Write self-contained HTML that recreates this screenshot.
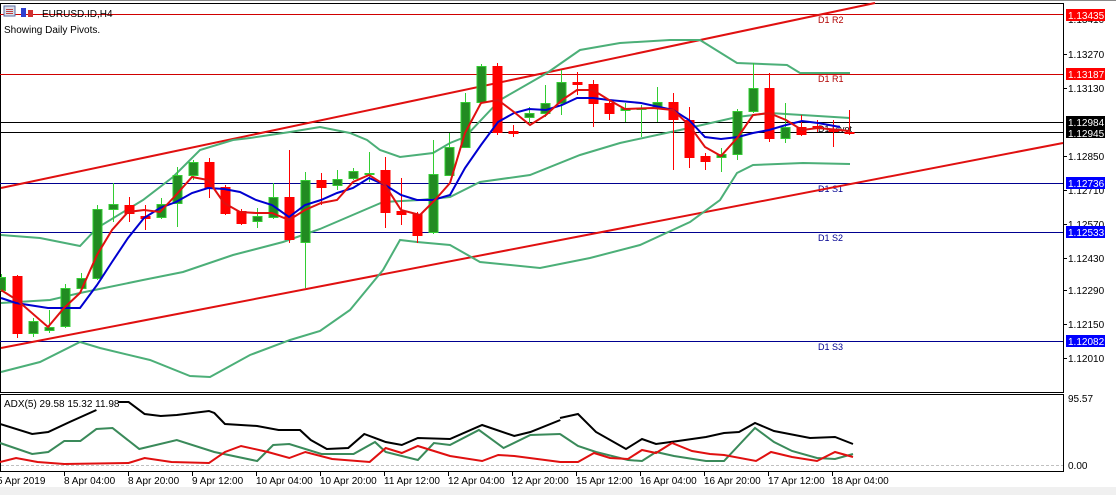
<!DOCTYPE html>
<html><head><meta charset="utf-8"><style>
html,body{margin:0;padding:0;background:#fff;}
svg{display:block;font-family:"Liberation Sans",sans-serif;}
</style></head><body>
<svg width="1116" height="495" viewBox="0 0 1116 495" xmlns="http://www.w3.org/2000/svg">
<rect x="0" y="0" width="1116" height="495" fill="#fff"/>
<rect x="0" y="487" width="1116" height="8" fill="#f0f0f0"/>
<line x1="0" y1="0.5" x2="1116" y2="0.5" stroke="#888"/>
<!-- main frame -->
<rect x="0.5" y="3.5" width="1063" height="389" fill="none" stroke="#000"/>
<rect x="0.5" y="394.5" width="1063" height="77" fill="none" stroke="#000"/>

<!-- pivot lines -->
<g stroke-width="1">
<line x1="0" y1="14.5" x2="1063" y2="14.5" stroke="#d00000"/>
<line x1="0" y1="74.5" x2="1063" y2="74.5" stroke="#d00000"/>
<line x1="0" y1="122.5" x2="1063" y2="122.5" stroke="#000"/>
<line x1="0" y1="132.5" x2="1063" y2="132.5" stroke="#000"/>
<line x1="0" y1="183.5" x2="1063" y2="183.5" stroke="#000090"/>
<line x1="0" y1="232.5" x2="1063" y2="232.5" stroke="#000090"/>
<line x1="0" y1="341.5" x2="1063" y2="341.5" stroke="#000090"/>
</g>
<g font-size="9">
<text x="818" y="23" fill="#b00000">D1 R2</text>
<text x="818" y="82" fill="#b00000">D1 R1</text>
<text x="818" y="132" fill="#000">D1 Pivot</text>
<text x="818" y="192" fill="#000090">D1 S1</text>
<text x="818" y="241" fill="#000090">D1 S2</text>
<text x="818" y="350" fill="#000090">D1 S3</text>
</g>

<!-- trend lines -->
<line x1="1" y1="188" x2="875" y2="3" stroke="#e01010" stroke-width="2"/>
<line x1="1" y1="348" x2="1063" y2="143" stroke="#e01010" stroke-width="2"/>

<!-- Bollinger -->
<g fill="none" stroke="#4caf78" stroke-width="2">
<polyline points="1,235 40,238 80,246 97,228 143,200 173,177 200,150 233,140 250,138 290,132 320,127 350,133 367,140 380,150 400,157 433,153 450,143 465,137 500,100 547,73 580,50 620,43 670,40 700,40 737,63 787,65 800,73 850,73"/>
<polyline points="1,303 50,300 80,293 143,280 183,272 233,255 283,242 320,229 383,202 420,200 450,197 480,182 530,175 580,155 620,143 680,130 737,117 770,113 850,118"/>
<polyline points="1,372 40,362 80,342 100,348 150,360 190,376 210,377 250,355 290,340 320,331 350,310 383,270 400,240 417,242 450,245 480,262 540,268 590,258 640,245 690,222 720,200 737,173 753,165 803,163 850,164"/>
</g>

<!-- candles -->
<g stroke-width="1">
<g stroke="#32cd32" fill="#228b22">
<line x1="1.5" y1="274" x2="1.5" y2="292"/><rect x="-3.5" y="277.5" width="9" height="13"/>
<line x1="33.5" y1="318" x2="33.5" y2="337"/><rect x="29" y="321.5" width="9" height="12"/>
<line x1="49.5" y1="310" x2="49.5" y2="333"/><rect x="45" y="327.5" width="9" height="3"/>
<line x1="65.5" y1="284" x2="65.5" y2="328"/><rect x="61" y="288.5" width="9" height="38"/>
<line x1="81.5" y1="273" x2="81.5" y2="290"/><rect x="77" y="278.5" width="9" height="10"/>
<line x1="97.5" y1="205" x2="97.5" y2="280"/><rect x="93" y="209.5" width="9" height="69"/>
<line x1="113.5" y1="183" x2="113.5" y2="222"/><rect x="109" y="204.5" width="9" height="5"/>
<line x1="161.5" y1="198" x2="161.5" y2="219"/><rect x="157" y="204.5" width="9" height="13"/>
<line x1="177.5" y1="167" x2="177.5" y2="227"/><rect x="173" y="175.5" width="9" height="28"/>
<line x1="193.5" y1="160" x2="193.5" y2="180"/><rect x="189" y="162.5" width="9" height="13"/>
<line x1="257.5" y1="208" x2="257.5" y2="228"/><rect x="253" y="216.5" width="9" height="5"/>
<line x1="273.5" y1="183" x2="273.5" y2="219"/><rect x="269" y="197.5" width="9" height="20"/>
<line x1="305.5" y1="172" x2="305.5" y2="288"/><rect x="301" y="180.5" width="9" height="62"/>
<line x1="337.5" y1="170" x2="337.5" y2="190"/><rect x="333" y="179.5" width="9" height="6"/>
<line x1="353.5" y1="168" x2="353.5" y2="180"/><rect x="349" y="171.5" width="9" height="7"/>
<line x1="369.5" y1="152" x2="369.5" y2="182"/><rect x="365" y="173.5" width="9" height="1"/>
<line x1="433.5" y1="140" x2="433.5" y2="234"/><rect x="429" y="174.5" width="9" height="58"/>
<line x1="449.5" y1="133" x2="449.5" y2="176"/><rect x="445" y="147.5" width="9" height="28"/>
<line x1="465.5" y1="93" x2="465.5" y2="148"/><rect x="461" y="102.5" width="9" height="45"/>
<line x1="481.5" y1="64" x2="481.5" y2="104"/><rect x="477" y="66.5" width="9" height="36"/>
<line x1="529.5" y1="107" x2="529.5" y2="123"/><rect x="525" y="113.5" width="9" height="4"/>
<line x1="545.5" y1="85" x2="545.5" y2="117"/><rect x="541" y="103.5" width="9" height="10"/>
<line x1="561.5" y1="70" x2="561.5" y2="115"/><rect x="557" y="82.5" width="9" height="21"/>
<line x1="625.5" y1="103" x2="625.5" y2="122"/><rect x="621" y="108.5" width="9" height="2"/>
<line x1="641.5" y1="105" x2="641.5" y2="137"/><rect x="637" y="108.5" width="9" height="1"/>
<line x1="657.5" y1="87" x2="657.5" y2="122"/><rect x="653" y="102.5" width="9" height="5"/>
<line x1="721.5" y1="148" x2="721.5" y2="172"/><rect x="717" y="154.5" width="9" height="3"/>
<line x1="737.5" y1="109" x2="737.5" y2="160"/><rect x="733" y="111.5" width="9" height="43"/>
<line x1="753.5" y1="63" x2="753.5" y2="113"/><rect x="749" y="88.5" width="9" height="23"/>
<line x1="785.5" y1="103" x2="785.5" y2="143"/><rect x="781" y="127.5" width="9" height="11"/>
</g>
<g stroke="#ff0000" fill="#ff0000">
<line x1="17.5" y1="275" x2="17.5" y2="338"/><rect x="13" y="276.5" width="9" height="57"/>
<line x1="129.5" y1="197" x2="129.5" y2="222"/><rect x="125" y="205.5" width="9" height="8"/>
<line x1="145.5" y1="205" x2="145.5" y2="230"/><rect x="141" y="216.5" width="9" height="2"/>
<line x1="209.5" y1="158" x2="209.5" y2="198"/><rect x="205" y="162.5" width="9" height="25"/>
<line x1="225.5" y1="185" x2="225.5" y2="215"/><rect x="221" y="187.5" width="9" height="26"/>
<line x1="241.5" y1="209" x2="241.5" y2="225"/><rect x="237" y="211.5" width="9" height="12"/>
<line x1="289.5" y1="150" x2="289.5" y2="243"/><rect x="285" y="197.5" width="9" height="42"/>
<line x1="321.5" y1="173" x2="321.5" y2="205"/><rect x="317" y="180.5" width="9" height="7"/>
<line x1="385.5" y1="157" x2="385.5" y2="228"/><rect x="381" y="170.5" width="9" height="42"/>
<line x1="401.5" y1="178" x2="401.5" y2="225"/><rect x="397" y="211.5" width="9" height="3"/>
<line x1="417.5" y1="212" x2="417.5" y2="243"/><rect x="413" y="214.5" width="9" height="21"/>
<line x1="497.5" y1="63" x2="497.5" y2="135"/><rect x="493" y="66.5" width="9" height="66"/>
<line x1="513.5" y1="125" x2="513.5" y2="137"/><rect x="509" y="131.5" width="9" height="2"/>
<line x1="577.5" y1="72" x2="577.5" y2="95"/><rect x="573" y="82.5" width="9" height="2"/>
<line x1="593.5" y1="80" x2="593.5" y2="127"/><rect x="589" y="84.5" width="9" height="19"/>
<line x1="609.5" y1="100" x2="609.5" y2="120"/><rect x="605" y="103.5" width="9" height="10"/>
<line x1="673.5" y1="93" x2="673.5" y2="170"/><rect x="669" y="102.5" width="9" height="17"/>
<line x1="689.5" y1="107" x2="689.5" y2="168"/><rect x="685" y="120.5" width="9" height="37"/>
<line x1="705.5" y1="153" x2="705.5" y2="170"/><rect x="701" y="156.5" width="9" height="5"/>
<line x1="769.5" y1="73" x2="769.5" y2="142"/><rect x="765" y="88.5" width="9" height="50"/>
<line x1="801.5" y1="115" x2="801.5" y2="136"/><rect x="797" y="127.5" width="9" height="7"/>
<line x1="817.5" y1="120" x2="817.5" y2="132"/><rect x="813" y="126.5" width="9" height="2"/>
<line x1="833.5" y1="120" x2="833.5" y2="147"/><rect x="829" y="130.5" width="9" height="1"/>
<line x1="849.5" y1="110" x2="849.5" y2="135"/><rect x="845" y="132.5" width="9" height="1"/>
</g>
</g>

<!-- moving averages -->
<polyline fill="none" stroke="#0000d0" stroke-width="2" points="1,298 16,303 48,308 80,308 97,285 112,262 128,238 144,218 160,208 176,202 192,193 208,188 224,189 240,192 256,200 272,205 289,217 305,205 321,200 337,193 353,188 369,178 385,185 401,195 417,200 433,200 450,195 465,168 481,145 498,122 514,113 529,109 546,110 562,105 577,98 593,98 609,100 641,103 673,110 689,120 705,137 721,139 738,137 753,133 769,130 786,125 802,121 818,123 840,127"/>
<polyline fill="none" stroke="#e01010" stroke-width="2" points="1,290 17,300 48,327 64,308 80,293 97,255 112,230 128,212 144,210 160,212 176,195 192,177 208,180 224,203 240,212 256,213 272,213 289,220 305,210 321,203 337,200 353,182 369,175 385,185 401,210 420,215 435,200 450,183 465,133 481,103 498,100 514,112 530,125 546,115 562,100 577,90 593,90 609,100 625,109 653,108 673,110 689,125 705,147 721,156 738,137 753,115 769,113 786,120 802,130 818,128 850,131"/>

<!-- header -->
<rect x="4" y="6" width="11" height="10" fill="#d9dde8" stroke="#5a6aa0"/>
<rect x="6" y="9" width="7" height="1" fill="#c04040"/><rect x="6" y="11" width="7" height="1" fill="#c04040"/><rect x="6" y="13" width="7" height="1" fill="#c04040"/>
<rect x="21" y="8" width="5" height="9" fill="#3040d0"/><rect x="28" y="10" width="5" height="7" fill="#d03030"/>
<text x="42" y="17" font-size="10" fill="#000">EURUSD.ID,H4</text>
<text x="4" y="33" font-size="10" fill="#000">Showing Daily Pivots.</text>

<!-- right axis -->
<g font-size="10" fill="#000">
<g stroke="#000">
<line x1="1063" y1="54.5" x2="1067" y2="54.5"/><line x1="1063" y1="88.5" x2="1067" y2="88.5"/>
<line x1="1063" y1="156.5" x2="1067" y2="156.5"/><line x1="1063" y1="190.5" x2="1067" y2="190.5"/>
<line x1="1063" y1="224.5" x2="1067" y2="224.5"/><line x1="1063" y1="258.5" x2="1067" y2="258.5"/>
<line x1="1063" y1="290.5" x2="1067" y2="290.5"/><line x1="1063" y1="324.5" x2="1067" y2="324.5"/>
<line x1="1063" y1="358.5" x2="1067" y2="358.5"/>
</g>
<text x="1068" y="23">1.13410</text>
<text x="1068" y="58">1.13270</text>
<text x="1068" y="92">1.13130</text>
<text x="1068" y="160">1.12850</text>
<text x="1068" y="194">1.12710</text>
<text x="1068" y="228">1.12570</text>
<text x="1068" y="262">1.12430</text>
<text x="1068" y="294">1.12290</text>
<text x="1068" y="328">1.12150</text>
<text x="1068" y="362">1.12010</text>
<text x="1068" y="402">95.57</text>
<text x="1068" y="469">0.00</text>
</g>
<g font-size="10" fill="#fff">
<rect x="1066" y="9" width="39" height="12" fill="#ff0000"/><text x="1068" y="19">1.13435</text>
<rect x="1066" y="68" width="39" height="12" fill="#ff0000"/><text x="1068" y="78">1.13187</text>
<rect x="1066" y="116" width="39" height="22" fill="#000"/><text x="1068" y="126">1.12984</text><text x="1068" y="137">1.12945</text>
<rect x="1066" y="177" width="39" height="12" fill="#0000ff"/><text x="1068" y="187">1.12736</text>
<rect x="1066" y="226" width="39" height="12" fill="#0000ff"/><text x="1068" y="236">1.12533</text>
<rect x="1066" y="335" width="39" height="12" fill="#0000ff"/><text x="1068" y="345">1.12082</text>
</g>

<!-- ADX -->
<line x1="1" y1="465.5" x2="1063" y2="465.5" stroke="#c0c0c0" stroke-dasharray="3,2"/>
<g fill="none" stroke-width="2">
<g transform="scale(1.0714,1)">
<polyline stroke="#000" points="0,424 30,434 45,432 65,422 90,410"/>
<polyline stroke="#000" points="110,402 120,402 135,414 150,416 165,415 195,411 200,413 210,424 240,426 260,430 280,430 290,440 305,449 325,448 340,434 360,442 375,445 390,438 420,439 450,425 480,436 495,432 523,420"/>
<polyline stroke="#3a8a5a" points="0,443 30,454 45,452 60,441 75,441 90,429 105,428 130,449 165,440 200,452 240,461 255,445 270,444 300,454 330,454 350,442 360,452 390,460 405,443 420,445 447,430 470,448 495,435 523,434"/>
<polyline stroke="#e01010" points="0,462 15,458 35,462 60,464 120,463 135,458 160,462 195,463 210,452 225,446 250,452 270,458 285,452 310,459 345,462 360,448 375,453 390,446 420,456 450,461 465,455 480,456 523,462"/>
</g>
<polyline stroke="#000" points="560,418 578,414 596,432 626,449 642,439 656,444 678,441 706,437 724,433 739,432 755,423 774,431 810,438 835,437 853,444"/>
<polyline stroke="#3a8a5a" points="560,434 578,446 596,452 628,460 642,461 656,452 674,456 706,461 724,461 755,428 774,442 792,451 817,458 835,459 853,454"/>
<polyline stroke="#e01010" points="560,462 578,462 594,453 610,458 628,459 642,450 656,453 672,443 692,451 710,454 724,455 756,461 771,452 792,457 817,461 835,452 853,457"/>
</g>
<rect x="2" y="396" width="112" height="13" fill="#fff"/>
<text x="4" y="407" font-size="10" fill="#000">ADX(5) 29.58 15.32 11.98</text>

<!-- time axis -->
<g stroke="#000">
<line x1="64.5" y1="472" x2="64.5" y2="476"/><line x1="128.5" y1="472" x2="128.5" y2="476"/>
<line x1="192.5" y1="472" x2="192.5" y2="476"/><line x1="256.5" y1="472" x2="256.5" y2="476"/>
<line x1="320.5" y1="472" x2="320.5" y2="476"/><line x1="384.5" y1="472" x2="384.5" y2="476"/>
<line x1="448.5" y1="472" x2="448.5" y2="476"/><line x1="512.5" y1="472" x2="512.5" y2="476"/>
<line x1="576.5" y1="472" x2="576.5" y2="476"/><line x1="640.5" y1="472" x2="640.5" y2="476"/>
<line x1="704.5" y1="472" x2="704.5" y2="476"/><line x1="768.5" y1="472" x2="768.5" y2="476"/>
<line x1="832.5" y1="472" x2="832.5" y2="476"/>
</g>
<g font-size="10" fill="#000">
<text x="-3" y="484">5 Apr 2019</text>
<text x="64" y="484">8 Apr 04:00</text>
<text x="128" y="484">8 Apr 20:00</text>
<text x="192" y="484">9 Apr 12:00</text>
<text x="256" y="484">10 Apr 04:00</text>
<text x="320" y="484">10 Apr 20:00</text>
<text x="384" y="484">11 Apr 12:00</text>
<text x="448" y="484">12 Apr 04:00</text>
<text x="512" y="484">12 Apr 20:00</text>
<text x="576" y="484">15 Apr 12:00</text>
<text x="640" y="484">16 Apr 04:00</text>
<text x="704" y="484">16 Apr 20:00</text>
<text x="768" y="484">17 Apr 12:00</text>
<text x="832" y="484">18 Apr 04:00</text>
</g>
</svg>
</body></html>
